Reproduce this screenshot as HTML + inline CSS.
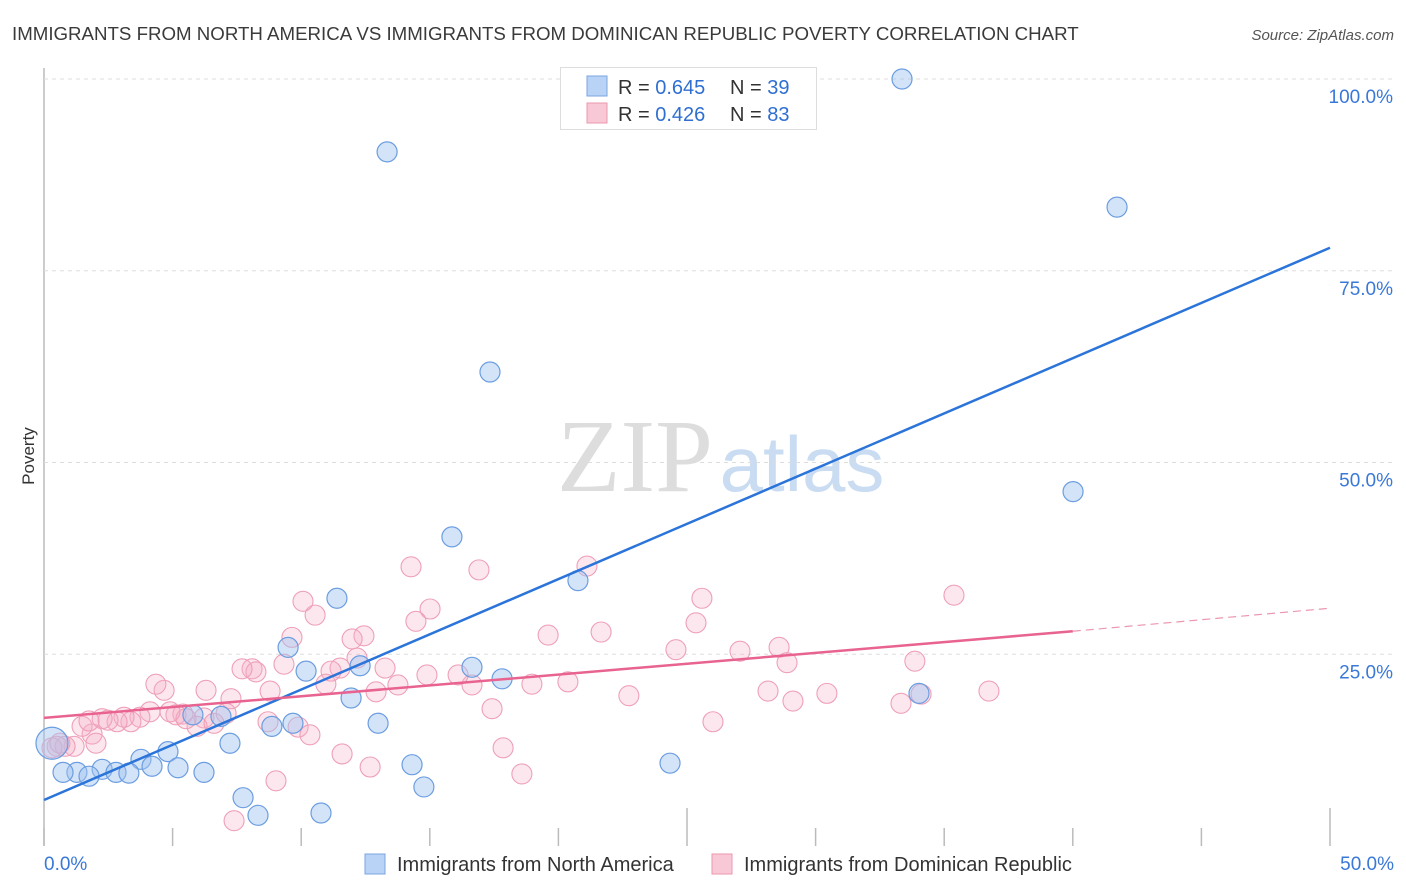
<!DOCTYPE html>
<html><head><meta charset="utf-8"><style>
body{margin:0;background:#fff;font-family:"Liberation Sans",sans-serif;}
#wrap{position:relative;width:1406px;height:892px;overflow:hidden;}
</style></head><body>
<div id="wrap">
<svg id="svg" width="1406" height="892" xmlns="http://www.w3.org/2000/svg">
<text x="12" y="40" font-size="18.7" fill="#3a3a3a">IMMIGRANTS FROM NORTH AMERICA VS IMMIGRANTS FROM DOMINICAN REPUBLIC POVERTY CORRELATION CHART</text>
<text x="1394" y="40" font-size="15" fill="#555" font-style="italic" text-anchor="end">Source: ZipAtlas.com</text>
<text x="34" y="456" font-size="17" fill="#333" text-anchor="middle" transform="rotate(-90 34 456)">Poverty</text>
<g>
<text x="635" y="491" font-size="104" fill="#ddd" font-family="Liberation Serif,serif" text-anchor="middle">ZIP</text>
<text x="802" y="491" font-size="78" fill="#c9dcf2" text-anchor="middle">atlas</text>
</g>
<g id="grid"></g><g id="marks"></g><g id="lines"></g>
<g>
<rect x="560.5" y="67.5" width="256" height="62" fill="#fff" stroke="#ddd"/>
<rect x="587" y="76" width="20" height="20" fill="#b8d3f5" stroke="#7aa6e0"/>
<rect x="587" y="103" width="20" height="20" fill="#f9c8d6" stroke="#eb97b0"/>
<text x="618" y="94" font-size="20" fill="#333">R = <tspan fill="#2f6fd1">0.645</tspan></text>
<text x="730" y="94" font-size="20" fill="#333">N = <tspan fill="#2f6fd1">39</tspan></text>
<text x="618" y="121" font-size="20" fill="#333">R = <tspan fill="#2f6fd1">0.426</tspan></text>
<text x="730" y="121" font-size="20" fill="#333">N = <tspan fill="#2f6fd1">83</tspan></text>
</g>
<g>
<rect x="365" y="854" width="20" height="20" fill="#b8d3f5" stroke="#7aa6e0"/>
<text x="397" y="871" font-size="20" fill="#333">Immigrants from North America</text>
<rect x="712" y="854" width="20" height="20" fill="#f9c8d6" stroke="#eb97b0"/>
<text x="744" y="871" font-size="20" fill="#333">Immigrants from Dominican Republic</text>
</g>
</svg>
</div>
<script>
const yTicks=[25,50,75,100];
const yTickLabels=["25.0%","50.0%","75.0%","100.0%"];
const xTickLabels=["0.0%","50.0%"];
const blueX=[13.34,33.36,41.72,17.34,40.01,15.86,20.76,11.39,9.49,12.29,10.19,16.64,17.81,11.94,12.99,34.02,8.86,9.68,6.88,5.79,7.23,4.82,3.77,4.20,5.21,6.22,2.26,1.28,0.74,1.75,2.80,3.30,14.31,24.34,7.74,14.77,8.32,10.77,0.31];
const blueY=[90.5,100,83.3,61.8,46.2,40.3,34.6,32.3,25.9,23.5,22.8,23.3,21.8,19.3,16.0,19.9,15.6,16.0,16.9,17.1,13.4,12.3,11.3,10.4,10.2,9.6,10.0,9.6,9.6,9.1,9.6,9.5,10.6,10.8,6.3,7.7,4.0,4.3,13.4];
const pinkX=[35.38,36.74,33.86,33.32,34.10,28.58,28.89,27.06,28.15,29.12,30.44,26.01,25.58,25.35,24.57,22.74,21.66,21.11,19.60,20.37,18.97,18.58,17.85,17.42,16.64,16.91,16.10,15.01,14.46,14.27,14.89,13.76,13.26,12.91,12.68,12.44,11.98,12.17,11.51,11.16,10.96,11.59,10.54,10.07,9.64,9.33,8.79,9.02,7.39,8.09,8.24,7.70,7.27,7.08,6.30,6.22,5.95,6.61,5.40,5.13,5.52,4.67,4.35,4.12,3.73,3.38,3.11,2.84,2.49,2.26,1.87,2.02,1.48,1.17,0.82,0.51,0.31,0.62,1.75,4.90,8.71,9.88,10.34];
const pinkY=[32.7,20.2,24.1,18.6,19.8,25.9,23.9,25.4,20.2,18.9,19.9,16.2,32.3,29.1,25.6,19.6,27.9,36.5,27.5,21.4,21.1,9.4,12.8,17.9,21.0,36.0,22.3,30.9,29.3,36.4,22.3,21.0,23.2,20.1,10.3,27.4,27.0,24.5,23.2,22.8,21.1,12.0,30.1,31.9,27.2,23.7,20.2,8.5,3.3,23.1,22.7,23.1,19.2,17.3,20.3,16.7,15.6,16.0,17.2,17.1,16.6,20.3,21.1,17.5,16.8,16.2,16.8,16.2,16.4,16.6,14.6,13.4,15.6,13.0,13.0,13.0,12.8,13.4,16.3,17.5,16.2,15.5,14.5];
const blueTrend=[0,6.0,50,78.0];
const pinkTrend=[0,16.7,40,28.0,50,31.0];
const X0=44,X1=1330,Y0=846,Y100=79;
const sx=v=>X0+(X1-X0)*v/50;
const sy=v=>Y0-(Y0-Y100)*v/100;
const NS="http://www.w3.org/2000/svg";
function mk(tag,attrs,parent){const e=document.createElementNS(NS,tag);for(const k in attrs)e.setAttribute(k,attrs[k]);parent.appendChild(e);return e;}
const grid=document.getElementById('grid'),marks=document.getElementById('marks'),lines=document.getElementById('lines');
let ax=mk('line',{x1:X0,y1:68,x2:X0,y2:Y0,stroke:'#bbb','stroke-width':1.5},grid);


yTicks.forEach((t,i)=>{
 const g=mk('line',{x1:X0,y1:sy(t),x2:1394,y2:sy(t),stroke:'#ddd','stroke-dasharray':'4,4'},grid);
 
 
 const tx=mk('text',{x:1393,y:sy(t)+24,'font-size':19,fill:'#3a78d8','text-anchor':'end'},grid);
 tx.textContent=yTickLabels[i];
 
 
});
for(let k=0;k<=10;k++){
 const x=sx(k*5);
 const tk=mk('line',{x1:x,y1:(k%5==0&&k>0)?808:828,x2:x,y2:Y0,stroke:'#bbb','stroke-width':1.5},grid);
 
 
}
[[0,'start',44],[1,'end',1394]].forEach(([i,a,x])=>{
 const tx=mk('text',{x:x,y:870,'font-size':19,fill:'#3a78d8','text-anchor':a},grid);
 tx.textContent=xTickLabels[i];
 
 
});
pinkX.forEach((v,i)=>{
 const c=mk('circle',{cx:sx(v),cy:sy(pinkY[i]),r:10,fill:'rgba(246,175,198,0.3)',stroke:'#eea0b8','stroke-width':1.1},marks);
 
 
});
blueX.forEach((v,i)=>{
 const r=i==blueX.length-1?16:10;
 const c=mk('circle',{cx:sx(v),cy:sy(blueY[i]),r:r,fill:'rgba(160,195,240,0.45)',stroke:'#6b9de0','stroke-width':1.2},marks);
 
 
});
let l=mk('line',{x1:sx(blueTrend[0]),y1:sy(blueTrend[1]),x2:sx(blueTrend[2]),y2:sy(blueTrend[3]),stroke:'#2b74d9','stroke-width':2.5},lines);


l=mk('line',{x1:sx(pinkTrend[0]),y1:sy(pinkTrend[1]),x2:sx(pinkTrend[2]),y2:sy(pinkTrend[3]),stroke:'#e8638f','stroke-width':2.5},lines);


l=mk('line',{x1:sx(pinkTrend[2]),y1:sy(pinkTrend[3]),x2:sx(pinkTrend[4]),y2:sy(pinkTrend[5]),stroke:'#eb97b0','stroke-width':1.2,'stroke-dasharray':'8,5'},lines);


</script>
</body></html>
